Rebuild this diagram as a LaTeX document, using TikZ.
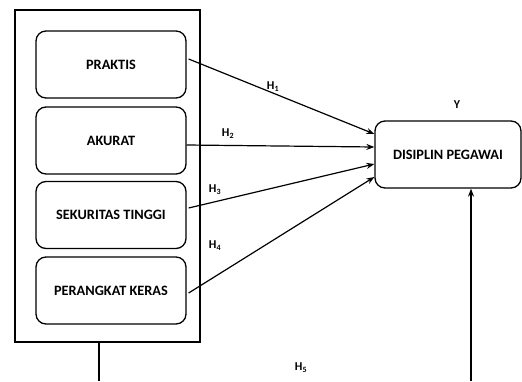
\documentclass[tikz,border=0pt]{standalone}
\usepackage{fontspec}
\setmainfont{Carlito}
\usetikzlibrary{arrows.meta,calc}
\begin{document}
\begin{tikzpicture}[x=1pt,y=-1pt,
  every node/.style={font=\bfseries},
  varbox/.style={draw,line width=1.3pt,rounded corners=10pt,minimum width=150pt,minimum height=67pt,inner sep=0pt,font=\fontsize{14.3}{16}\selectfont\bfseries},
  frame/.style={draw,line width=1.3pt,minimum width=185pt,minimum height=332pt,inner sep=0pt},
  hlabel/.style={font=\fontsize{12}{13}\selectfont\bfseries,inner sep=0pt},
  conn/.style={line width=1.2pt},
  arr/.style={line width=1.2pt,-{Stealth[length=8pt,width=6pt]}}]
\useasboundingbox (0,0) rectangle (522,381);
\node[frame] (outer) at (107.5,176) {};
\node[varbox] (prak) at (111,64.5) {\raisebox{-5pt}{PRAKTIS}};
\node[varbox] (akur) at (111,140.5) {\raisebox{-4pt}{AKURAT}};
\node[varbox] (seku) at (111,215) {\raisebox{1pt}{SEKURITAS TINGGI}};
\node[varbox] (pera) at (111,290.5) {\raisebox{-6pt}{PERANGKAT KERAS}};
\node[varbox,minimum width=146pt] (dis) at (448,154.5) {DISIPLIN PEGAWAI};
\node[hlabel] (y) at (457,105) {Y};
\node[hlabel] (h1) at (273,87) {H\textsubscript{1}};
\node[hlabel] (h2) at (228,134) {H\textsubscript{2}};
\node[hlabel] (h3) at (215,190) {H\textsubscript{3}};
\node[hlabel] (h4) at (215,246) {H\textsubscript{4}};
\node[hlabel] (h5) at (301,368) {H\textsubscript{5}};
\draw[arr] ($(prak.east)+(2,-5.5)$) -- ($(dis.west)+(0,-20.5)$);
\draw[arr] ($(akur.east)+(0,4.5)$) -- ($(dis.west)+(0,-7.5)$);
\draw[arr] ($(seku.east)+(2,-7)$) -- ($(dis.west)+(0,9.5)$);
\draw[arr] ($(pera.east)+(2,2.5)$) -- ($(dis.west)+(0,22.5)$);
\coordinate (lend) at (99,381);
\coordinate (rend) at (471,381);
\draw[conn] (outer.south -| lend) -- (lend);
\draw[arr] (rend) -- (rend |- dis.south);
\end{tikzpicture}
\end{document}
